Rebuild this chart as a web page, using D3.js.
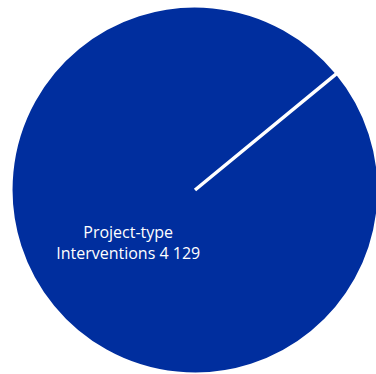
<!DOCTYPE html>
<html>
<head>
<meta charset="utf-8">
<script src="https://cdn.jsdelivr.net/npm/d3@7"></script>
<style>
  body { margin: 0; background: #fff; }
  #chart { width: 376px; height: 374px; }
  .slice-label { font-family: "Open Sans", sans-serif; font-size: 16px; fill: #fff; }
</style>
</head>
<body>
<div id="chart"></div>
<script>
// slice categories and values
const categories = ["Project-type Interventions", "Other"];
const values = [4129, 0];
const labelLines = [["Project-type", "Interventions 4 129"], []];

const width = 376, height = 374;
const cx = 195, cy = 190, radius = 184;

const svg = d3.select("#chart")
    .append("svg")
    .attr("width", width)
    .attr("height", height);

const g = svg.append("g")
    .attr("transform", `translate(${cx}, ${cy})`);

// first slice starts a little past 12 o'clock
const start = 50.6 * Math.PI / 180;

const pie = d3.pie()
    .sort(null)
    .value(d => d)
    .startAngle(start)
    .endAngle(start + 2 * Math.PI);

const arc = d3.arc()
    .innerRadius(0)
    .outerRadius(radius);

const arcs = pie(values);

g.selectAll("path.slice")
    .data(arcs)
    .enter()
    .append("path")
    .attr("class", "slice")
    .attr("d", arc)
    .attr("fill", "#002e9e")
    .attr("stroke", "#fff")
    .attr("stroke-width", 3.5)
    .attr("stroke-linejoin", "miter");

// label at the centroid of the big slice
const labelArc = d3.arc()
    .innerRadius(radius * 0.47)
    .outerRadius(radius * 0.47);

arcs.forEach((a, i) => {
    const lines = labelLines[i];
    if (!lines.length) return;
    const [x, y] = labelArc.centroid(a);
    const t = g.append("text")
        .attr("class", "slice-label")
        .attr("text-anchor", "middle")
        .attr("transform", `translate(${x}, ${y})`);
    lines.forEach((ln, j) => {
        t.append("tspan")
            .attr("x", 0)
            .attr("y", (j - (lines.length - 1) / 2) * 21 + 4)
            .text(ln);
    });
});
</script>
</body>
</html>
